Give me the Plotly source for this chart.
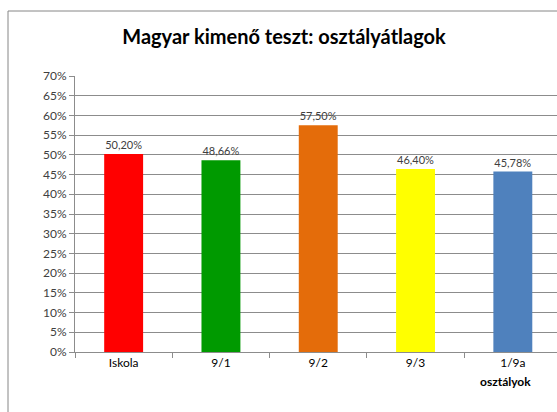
import plotly.graph_objects as go

categories = ["Iskola", "9/1", "9/2", "9/3", "1/9a"]
values = [0.5020, 0.4866, 0.5750, 0.4640, 0.4578]
colors = ["#FF0000", "#009A00", "#E46C0A", "#FFFF00", "#4F81BD"]

W, H = 557, 412
L, R, T, B = 75, 0, 76, 60
pw, ph = W - L - R, H - T - B


def px(x):
    return (x - L) / pw


def py(y):
    return (H - B - y) / ph


fig = go.Figure(go.Bar(
    x=categories, y=values,
    marker=dict(color=colors, line=dict(width=0)),
    width=0.4,
    texttemplate="%{y:.2%}",
    textposition="outside",
    textfont=dict(size=11, color="#404040"),
    cliponaxis=False,
))

fig.update_layout(
    width=W, height=H,
    margin=dict(l=L, r=R, t=T, b=B),
    paper_bgcolor="white", plot_bgcolor="white",
    separators=", ",
    font=dict(family="Lato, 'Open Sans', sans-serif", size=11, color="#404040"),
    title=dict(text="<b>Magyar kimenő teszt: osztályátlagok</b>",
               x=284 / W, xref="container", xanchor="center",
               y=1 - 37 / H, yref="container", yanchor="middle",
               font=dict(size=20, color="black")),
    showlegend=False,
)
fig.update_yaxes(
    range=[0, 0.70], dtick=0.05, tickformat=".0%",
    showgrid=True, gridcolor="#8C8C8C", gridwidth=1,
    showline=True, linecolor="#8C8C8C",
    ticks="outside", ticklen=5, tickcolor="#8C8C8C",
    tickfont=dict(size=12, color="#404040"),
    zeroline=False,
)
fig.update_xaxes(
    range=[-0.5, 4.454],
    showline=True, linecolor="#8C8C8C",
    ticks="outside", ticklen=5, tickcolor="#8C8C8C", tickson="boundaries",
    tickfont=dict(size=12, color="black"),
    showgrid=False,
)
fig.add_annotation(
    text="<b>osztályok</b>", x=px(505), y=py(381), xref="paper", yref="paper",
    xanchor="center", yanchor="middle",
    showarrow=False, font=dict(size=12, color="black"),
)
# chart frame (top and left edges visible in the window)
fig.add_shape(type="line", xref="paper", yref="paper",
              x0=px(8), y0=py(11), x1=px(W), y1=py(11),
              line=dict(color="#868686", width=1))
fig.add_shape(type="line", xref="paper", yref="paper",
              x0=px(8), y0=py(11), x1=px(8), y1=py(H),
              line=dict(color="#868686", width=1))

fig.write_html(
    "out.html", config={"displayModeBar": False},
    post_script="document.body.style.margin='0';"
                "document.body.style.overflow='hidden';"
                "document.documentElement.style.overflow='hidden';")
